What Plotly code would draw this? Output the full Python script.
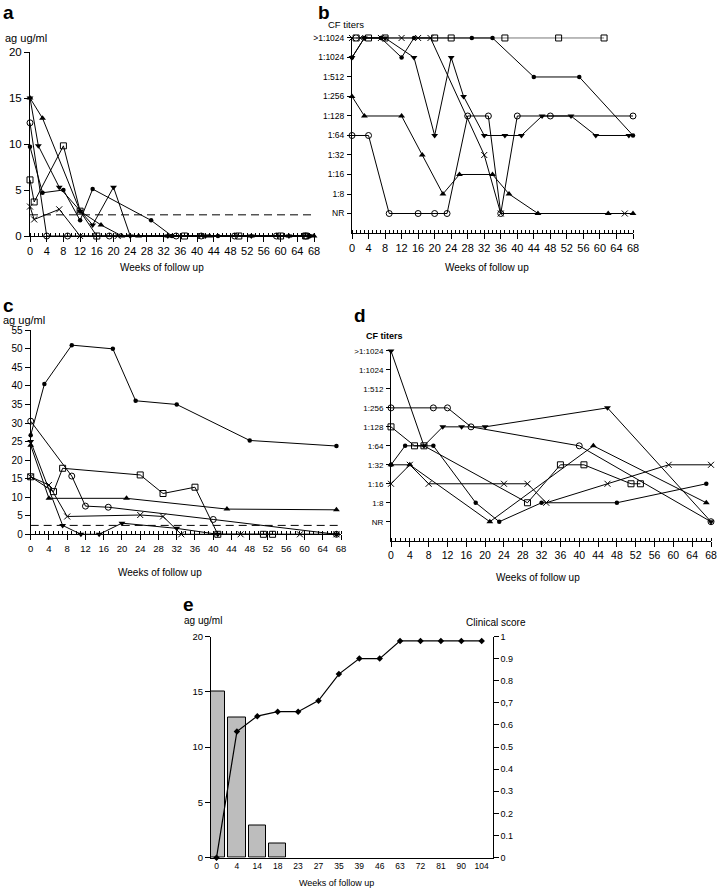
import plotly.graph_objects as go

W, H = 719, 891
FONT = "Arial, Liberation Sans, sans-serif"

def px(x):
    return x / W

def py(y):
    return 1 - y / H

# ---------------- Panel a (ag ug/ml) ----------------
a_up_w = [0, 3, 12, 17, 22, 26, 33, 43, 53, 62, 68]
a_up_v = [15, 12.8, 2.7, 1.2, 0, 0, 0, 0, 0, 0, 0]
a_down_w = [0, 2, 7, 12, 15, 20, 24, 33, 42, 53, 62, 67]
a_down_v = [15, 9.8, 5.3, 2.7, 1.2, 5.3, 0, 0, 0, 0, 0, 0]
a_dot_w = [0, 3, 8, 12, 15, 29, 34, 45, 67]
a_dot_v = [9.7, 4.7, 5.0, 1.7, 5.1, 1.7, 0, 0, 0]
a_oc_w = [0, 4, 9, 19, 35, 41, 49, 59, 66]
a_oc_v = [12.3, 0, 0, 0, 0, 0, 0, 0, 0]
a_sq_w = [0, 1, 8, 12, 16, 37, 50, 60, 66]
a_sq_v = [6.1, 3.7, 9.8, 2.7, 0, 0, 0, 0, 0]
a_x_w = [0, 1, 7, 12, 21, 41, 66]
a_x_v = [3.2, 1.8, 2.9, 0, 0, 0, 0]
a_threshold = 2.3

# ---------------- Panel b (CF titers, level index) ----------------
titer_labels = ["NR", "1:8", "1:16", "1:32", "1:64", "1:128", "1:256", "1:512", "1:1024", ">1:1024"]
b_sq_w = [1, 4, 8, 20, 24, 37, 50, 61]
b_sq_k = [9, 9, 9, 9, 9, 9, 9, 9]
b_dot_w = [0, 3, 7, 12, 15, 29, 34, 44, 55, 68]
b_dot_k = [8, 9, 9, 8, 9, 9, 9, 7, 7, 4]
b_down_w = [0, 3, 8, 15, 20, 24, 27, 32, 37, 41, 46, 53, 59, 67]
b_down_k = [8, 9, 9, 8, 4, 8, 6, 4, 4, 4, 5, 5, 4, 4]
b_oc_w = [0, 4, 9, 16, 20, 23, 28, 33, 36, 40, 48, 68]
b_oc_k = [4, 4, 0, 0, 0, 0, 5, 5, 0, 5, 5, 5]
b_up_w = [0, 3, 12, 17, 22, 26, 34, 38, 45, 62, 68]
b_up_k = [6, 5, 5, 3, 1, 2, 2, 1, 0, 0, 0]
b_x_w = [0, 2, 7, 12, 16, 19, 32, 36, 66]
b_x_k = [9, 9, 9, 9, 9, 9, 3, 0, 0]

# ---------------- Panel c (ag ug/ml) ----------------
c_dot_w = [0, 3, 9, 18, 23, 32, 48, 67]
c_dot_v = [26.7, 40.5, 51, 50, 36, 35, 25.3, 23.8]
c_oc_w = [0, 9, 12, 17, 40, 67]
c_oc_v = [30.5, 15.7, 7.6, 7.3, 4.0, 0]
c_sq_w = [0, 5, 7, 24, 29, 36, 41, 51, 53]
c_sq_v = [15.5, 11.5, 17.8, 16, 11, 12.7, 0, 0, 0]
c_up_w = [0, 4, 21, 43, 67]
c_up_v = [24, 9.7, 9.7, 6.8, 6.6]
c_down_w = [0, 7, 11, 15, 20, 32, 41, 67]
c_down_v = [25, 2.4, 0, 0, 3, 1.6, 0, 0]
c_x_w = [0, 4, 8, 24, 29, 33, 46, 59, 67]
c_x_v = [15.5, 13.3, 4.8, 5.2, 4.8, 0, 0, 0, 0]
c_threshold = 2.4

# ---------------- Panel d (CF titers) ----------------
d_down_w = [0, 7, 11, 15, 20, 46, 68]
d_down_k = [9, 4, 5, 5, 5, 6, 0]
d_oc_w = [0, 9, 12, 17, 40, 68]
d_oc_k = [6, 6, 6, 5, 4, 0]
d_sq_w = [0, 5, 7, 29, 36, 41, 51, 53]
d_sq_k = [5, 4, 4, 1, 3, 3, 2, 2]
d_dot_w = [0, 3, 9, 18, 23, 32, 48, 67]
d_dot_k = [3, 4, 4, 1, 0, 1, 1, 2]
d_up_w = [0, 4, 21, 43, 67]
d_up_k = [3, 3, 0, 4, 1]
d_x_w = [0, 4, 8, 24, 29, 33, 46, 59, 68]
d_x_k = [2, 3, 2, 2, 2, 1, 2, 3, 3]

# ---------------- Panel e ----------------
e_weeks = ["0", "4", "14", "18", "23", "27", "35", "39", "46", "63", "72", "81", "90", "104"]
e_ag = [15, 12.7, 2.9, 1.3, None, None, None, None, None, None, None, None, None, None]
e_score = [0, 0.57, 0.64, 0.66, 0.66, 0.71, 0.83, 0.90, 0.90, 0.98, 0.98, 0.98, 0.98, 0.98]
e_score_ticks = [0, 0.1, 0.2, 0.3, 0.4, 0.5, 0.6, 0.7, 0.8, 0.9, 1]
e_score_ticktext = ["0", "0.1", "0.2", "0.3", "0.4", "0.5", "0.6", "0,7", "0.8", "0.9", "1"]

MARK = {
    "up": dict(symbol="triangle-up", size=6, color="black"),
    "down": dict(symbol="triangle-down", size=6, color="black"),
    "dot": dict(symbol="circle", size=4.5, color="black"),
    "oc": dict(symbol="circle-open", size=6, color="black", line=dict(width=1, color="black")),
    "sq": dict(symbol="square-open", size=6, color="black", line=dict(width=1, color="black")),
    "x": dict(symbol="x-thin-open", size=6, color="black", line=dict(width=1, color="black")),
}

fig = go.Figure()

def add(xs, ys, kind, xa, ya, lc="black"):
    fig.add_trace(go.Scatter(
        x=xs, y=ys, mode="lines+markers", xaxis=xa, yaxis=ya,
        line=dict(color=lc, width=1), marker=MARK[kind], cliponaxis=False,
        hoverinfo="skip", showlegend=False))

# panel a
add(a_oc_w, a_oc_v, "oc", "x", "y")
add(a_sq_w, a_sq_v, "sq", "x", "y")
add(a_x_w, a_x_v, "x", "x", "y")
add(a_dot_w, a_dot_v, "dot", "x", "y")
add(a_down_w, a_down_v, "down", "x", "y")
add(a_up_w, a_up_v, "up", "x", "y")
# panel b
add(b_sq_w, b_sq_k, "sq", "x2", "y2", lc="#777777")
add(b_oc_w, b_oc_k, "oc", "x2", "y2")
add(b_x_w, b_x_k, "x", "x2", "y2")
add(b_dot_w, b_dot_k, "dot", "x2", "y2")
add(b_down_w, b_down_k, "down", "x2", "y2")
add(b_up_w, b_up_k, "up", "x2", "y2")
# panel c
add(c_oc_w, c_oc_v, "oc", "x3", "y3")
add(c_sq_w, c_sq_v, "sq", "x3", "y3")
add(c_x_w, c_x_v, "x", "x3", "y3")
add(c_dot_w, c_dot_v, "dot", "x3", "y3")
add(c_down_w, c_down_v, "down", "x3", "y3")
add(c_up_w, c_up_v, "up", "x3", "y3")
# panel d
add(d_oc_w, d_oc_k, "oc", "x4", "y4")
add(d_sq_w, d_sq_k, "sq", "x4", "y4")
add(d_x_w, d_x_k, "x", "x4", "y4")
add(d_dot_w, d_dot_k, "dot", "x4", "y4")
add(d_down_w, d_down_k, "down", "x4", "y4")
add(d_up_w, d_up_k, "up", "x4", "y4")

# panel e
e_idx = list(range(len(e_weeks)))
fig.add_trace(go.Bar(
    x=e_idx, y=e_ag, xaxis="x5", yaxis="y5", width=0.86,
    marker=dict(color="#bdbdbd", line=dict(color="black", width=1)),
    hoverinfo="skip", showlegend=False))
fig.add_trace(go.Scatter(
    x=e_idx, y=e_score, xaxis="x5", yaxis="y6", mode="lines+markers",
    line=dict(color="black", width=1.2),
    marker=dict(symbol="diamond", size=5, color="black"), cliponaxis=False,
    hoverinfo="skip", showlegend=False))


def xax(x0, x1, y_anchor, rng, fs=11):
    return dict(domain=[px(x0), px(x1)], range=rng, anchor=y_anchor,
                showline=True, linecolor="black", linewidth=1, showgrid=False,
                zeroline=False, ticks="outside", ticklen=5, tickcolor="black",
                tickwidth=1, tickmode="linear", tick0=0, dtick=4,
                tickfont=dict(size=fs, color="black", family=FONT),
                minor=dict(ticks="inside", ticklen=3, dtick=1, tick0=0,
                           tickcolor="black", tickwidth=1, showgrid=False),
                automargin=False, fixedrange=True)


def yax_num(y_bottom, y_top, x_anchor, rng, dtick, fs=11):
    return dict(domain=[py(y_bottom), py(y_top)], range=rng, anchor=x_anchor,
                showline=True, linecolor="black", linewidth=1, showgrid=False,
                zeroline=False, ticks="outside", ticklen=5, tickcolor="black",
                tickwidth=1, tickmode="linear", tick0=0, dtick=dtick,
                tickfont=dict(size=fs, color="black", family=FONT),
                automargin=False, fixedrange=True)


def yax_cat(y_bottom, y_top, x_anchor, fs=8.5):
    return dict(domain=[py(y_bottom), py(y_top)], range=[-1, 9.05], anchor=x_anchor,
                showline=True, linecolor="black", linewidth=1, showgrid=False,
                zeroline=False, ticks="outside", ticklen=4, tickcolor="black",
                tickwidth=1, tickmode="array", tickvals=list(range(10)),
                ticktext=titer_labels, ticklabelstandoff=1,
                tickfont=dict(size=fs, color="black", family=FONT),
                automargin=False, fixedrange=True)


layout = dict(
    width=W, height=H, margin=dict(l=0, r=0, t=0, b=0),
    paper_bgcolor="white", plot_bgcolor="rgba(0,0,0,0)",
    font=dict(family=FONT, color="black"), showlegend=False, bargap=0,
    xaxis=xax(30, 314, "y", [0, 68], fs=11),
    yaxis=yax_num(236, 52, "x", [0, 20], 5, fs=11.5),
    xaxis2=xax(352, 633, "y2", [0, 68], fs=11),
    yaxis2=yax_cat(233, 37, "x2", fs=8.5),
    xaxis3=xax(30.7, 341, "y3", [0, 68], fs=9.5),
    yaxis3=yax_num(534.3, 330.3, "x3", [0, 55], 5, fs=10),
    xaxis4=xax(391, 711, "y4", [0, 68], fs=10.5),
    yaxis4=yax_cat(540.7, 350, "x4", fs=8),
    xaxis5=dict(domain=[px(211), px(492.7)], range=[-0.27, 13.54], anchor="y5",
                showline=True, linecolor="black", linewidth=1, showgrid=False,
                zeroline=False, ticks="", tickmode="array", tickvals=e_idx,
                ticktext=e_weeks, tickfont=dict(size=8.5, color="black", family=FONT),
                automargin=False, fixedrange=True),
    yaxis5=dict(domain=[py(857.7), py(636.5)], range=[0, 20], anchor="x5",
                showline=True, linecolor="black", linewidth=1.2, showgrid=False,
                zeroline=False, ticks="outside", ticklen=5, tickcolor="black",
                tickmode="linear", tick0=0, dtick=5,
                tickfont=dict(size=9.5, color="black", family=FONT),
                automargin=False, fixedrange=True),
    yaxis6=dict(domain=[py(857.7), py(636.5)], range=[0, 1], anchor="x5",
                overlaying="y5", side="right",
                showline=True, linecolor="black", linewidth=1.2, showgrid=False,
                zeroline=False, ticks="outside", ticklen=5, tickcolor="black",
                tickmode="array", tickvals=e_score_ticks, ticktext=e_score_ticktext,
                tickfont=dict(size=9, color="black", family=FONT),
                automargin=False, fixedrange=True),
)
fig.update_layout(**layout)

# dashed threshold lines
fig.add_shape(type="line", xref="x", yref="y", x0=0, x1=68, y0=a_threshold, y1=a_threshold,
              line=dict(color="black", width=1, dash="8px,5px"))
fig.add_shape(type="line", xref="x3", yref="y3", x0=0, x1=68, y0=c_threshold, y1=c_threshold,
              line=dict(color="black", width=1, dash="8px,5px"))


def ann(text, x, y, size, bold=False, xanchor="left", yanchor="middle"):
    t = f"<b>{text}</b>" if bold else text
    fig.add_annotation(text=t, x=px(x), y=py(y), xref="paper", yref="paper",
                       xanchor=xanchor, yanchor=yanchor, showarrow=False,
                       font=dict(size=size, color="black", family=FONT))

# panel a texts
ann("a", 1, 12, 19, bold=True)
ann("ag ug/ml", 3, 38, 11)
ann("Weeks of follow up", 162, 268, 10, xanchor="center")
# panel b
ann("b", 316, 12, 19, bold=True)
ann("CF titers", 326, 25, 9.5)
ann("Weeks of follow up", 487, 268, 10, xanchor="center")
# panel c
ann("c", 1, 305, 19, bold=True)
ann("ag ug/ml", 1, 320, 11)
ann("Weeks of follow up", 160, 572, 10, xanchor="center")
# panel d
ann("d", 352, 316, 19, bold=True)
ann("CF titers", 364, 336, 9, bold=True)
ann("Weeks of follow up", 538, 577, 10, xanchor="center")
# panel e
ann("e", 181, 604, 19, bold=True)
ann("ag ug/ml", 182, 620, 10)
ann("Clinical score", 464, 622, 10)
ann("Weeks of follow up", 336, 883, 9, xanchor="center")

fig.write_html(
    "out.html",
    config={"displayModeBar": False},
    post_script="document.body.style.margin='0';document.body.style.overflow='hidden';",
)
